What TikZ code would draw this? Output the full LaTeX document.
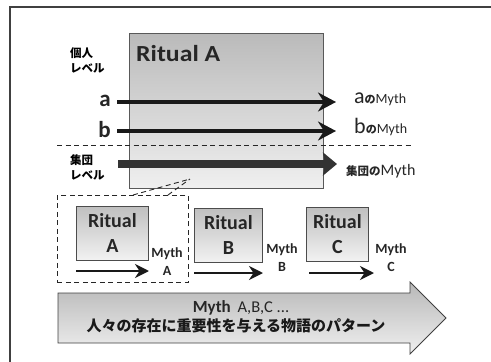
\documentclass[tikz,border=0pt]{standalone}
\usepackage{fontspec}
\setmainfont{Carlito}
\newfontfamily\jp{Noto Sans CJK JP}
\newfontfamily\widefont{Carlito}[FakeStretch=1.12]
\usetikzlibrary{arrows.meta}
\tikzset{
  frameline/.style={draw=black!75, line width=1.3pt},
  bigbox/.style={draw=black!65, line width=0.8pt, top color=black!27, bottom color=black!6,
    minimum width=194pt, minimum height=155pt, anchor=north west, inner sep=0pt},
  rbox/.style={draw=black!70, line width=0.8pt, top color=black!25, bottom color=black!5,
    anchor=north west, inner sep=0pt, minimum height=54pt,
    font=\fontsize{20}{25}\selectfont\bfseries, align=center, text=black!85},
  sepline/.style={draw=black!85, line width=0.9pt, dash pattern=on 5pt off 3.5pt},
  dashbox/.style={draw=black!85, line width=0.9pt, dash pattern=on 5pt off 3.5pt,
    anchor=north west, inner sep=0pt, minimum width=131pt, minimum height=87pt},
  thinarrow/.style={draw=black!90, line width=3.3pt, -{Stealth[length=18pt,width=19pt,inset=6pt]}},
  thickarrow/.style={draw=black!80, line width=7.5pt, -{Stealth[length=14pt,width=23pt,inset=2pt]}},
  smallarrow/.style={draw=black!90, line width=2pt, -{Stealth[length=14pt,width=14pt,inset=4.5pt]}},
  jplabel/.style={font=\jp\bfseries\fontsize{11.5}{15}\selectfont, align=left, anchor=north west, inner sep=0pt},
  mythlabel/.style={font=\fontsize{14}{18}\selectfont\bfseries, align=center, inner sep=0pt, text=black!85},
  biglatin/.style={font=\fontsize{23}{25}\selectfont\bfseries, inner sep=0pt, text=black!85},
}
\begin{document}
\begin{tikzpicture}[x=1pt,y=-1pt]
\useasboundingbox (0,0) rectangle (491,362);
% frame
\draw[frameline] (10,362) -- (10,7) -- (491,7);
% big Ritual A box
\node[bigbox] (RA) at (129,33) {};
\node[anchor=base west, inner sep=0pt, font=\widefont\fontsize{23}{25}\selectfont\bfseries, text=black!85] (RAt) at (136,61) {Ritual A};
% level labels
\node[jplabel] (ind) at (70,47) {個人\\レベル};
\node[jplabel] (grp) at (70,154) {集団\\レベル};
% separator
\coordinate (sepL) at (57,145);
\coordinate (sepR) at (413,145);
\draw[sepline] (sepL) -- (sepR);
% a and b arrows
\node[biglatin, anchor=base east] (la) at (111,106) {a};
\node[biglatin, anchor=base east] (lb) at (111,137) {b};
\coordinate (aS) at (117,102);
\coordinate (aE) at (336,102);
\coordinate (bS) at (117,131);
\coordinate (bE) at (336,131);
\draw[thinarrow] (aS) -- (aE);
\draw[thinarrow] (bS) -- (bE);
\node[anchor=base west, inner sep=0pt, text=black!85] (am) at (354,103)
  {\fontsize{22}{24}\selectfont a{\jp\bfseries\fontsize{11}{12}\selectfont の}\fontsize{14}{16}\selectfont Myth};
\node[anchor=base west, inner sep=0pt, text=black!85] (bm) at (354,133)
  {\fontsize{22}{24}\selectfont b{\jp\bfseries\fontsize{11}{12}\selectfont の}\fontsize{14}{16}\selectfont Myth};
% group arrow
\coordinate (gS) at (118,164);
\coordinate (gE) at (337,164);
\draw[thickarrow] (gS) -- (gE);
\node[anchor=base west, inner sep=0pt, text=black!85] (gm) at (346,175)
  {{\jp\bfseries\fontsize{11.5}{12}\selectfont 集団の}\fontsize{16}{18}\selectfont Myth};
% dashed zoom box
\node[dashbox] (DB) at (57,195) {};
\coordinate (z1) at (133,195);
\coordinate (z2) at (168,195);
\coordinate (zt) at (190,179);
\draw[sepline] (z1) -- (zt);
\draw[sepline] (z2) -- (zt);
% small rituals
\node[rbox, minimum width=72pt] (rA) at (76,206) {Ritual\\A};
\node[rbox, minimum width=68pt] (rB) at (194,208) {Ritual\\B};
\node[rbox, minimum width=62pt] (rC) at (306,207) {Ritual\\C};
\coordinate (sA1) at (76,271);
\coordinate (sA2) at (149,271);
\coordinate (sB1) at (194,273);
\coordinate (sB2) at (263,273);
\coordinate (sC1) at (309,273);
\coordinate (sC2) at (374,273);
\draw[smallarrow] (sA1) -- (sA2);
\draw[smallarrow] (sB1) -- (sB2);
\draw[smallarrow] (sC1) -- (sC2);
\node[mythlabel] (mA) at (167,262) {Myth\\A};
\node[mythlabel] (mB) at (282,258) {Myth\\B};
\node[mythlabel] (mC) at (391,258) {Myth\\C};
% big arrow
\shade[top color=black!28, bottom color=black!6, draw=black!75, line width=0.8pt]
  (58,293) -- (410,293) -- (410,282) -- (446,318) -- (410,354) -- (410,343) -- (58,343) -- cycle;
\node[inner sep=0pt, text=black!85] (mt) at (241,308)
  {{\fontsize{17}{18}\selectfont\bfseries Myth}\ \ \ {\fontsize{16.5}{18}\selectfont A,B,C ...}};
\node[inner sep=0pt, text=black!90, font=\jp\bfseries\fontsize{15}{16}\selectfont] (mj) at (236,326)
  {人々の存在に重要性を与える物語のパターン};
\end{tikzpicture}
\end{document}
